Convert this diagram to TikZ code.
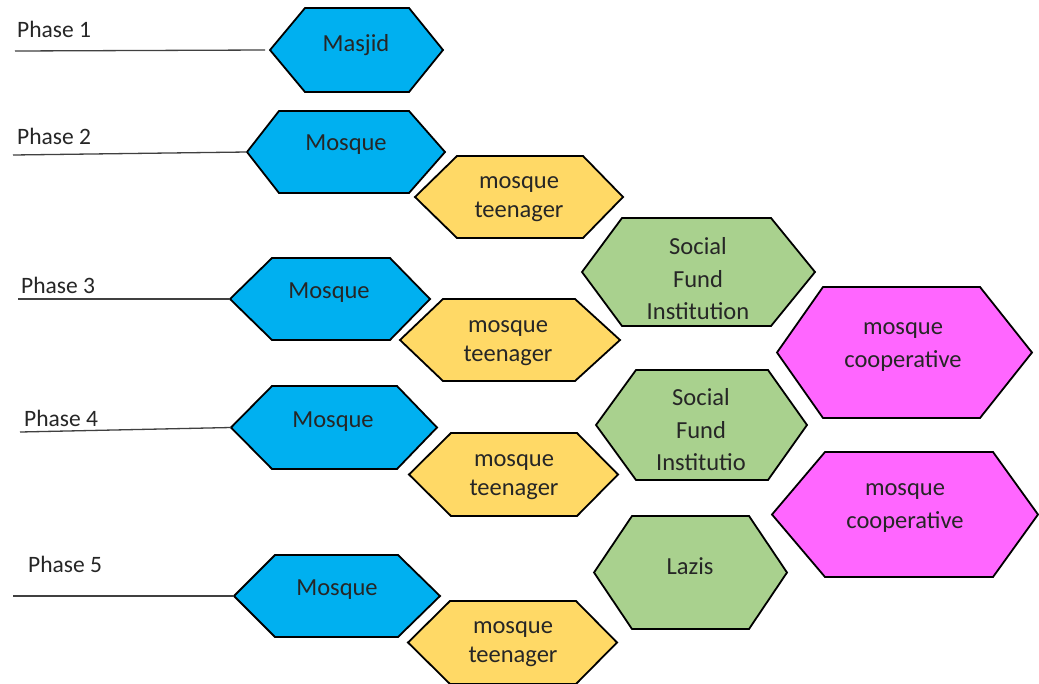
\documentclass[tikz,border=0pt]{standalone}
\usepackage{fontspec}
\setmainfont{Carlito}
\definecolor{hblue}{HTML}{00B0F0}
\definecolor{hyellow}{HTML}{FFD966}
\definecolor{hgreen}{HTML}{A9D18E}
\definecolor{hpink}{HTML}{FF66FF}
\definecolor{lineg}{HTML}{404040}
\newcommand\hexa[8]{% name, xl, yt, xr, yb, inset left, inset right, colour
  \path[hexshape, fill=#8] (#2,{(#3+#5)/2}) -- (#2+#6,#3) -- (#4-#7,#3) -- (#4,{(#3+#5)/2}) -- (#4-#7,#5) -- (#2+#6,#5) -- cycle;
  \coordinate (#1) at (#2,{(#3+#5)/2});}
\begin{document}
\begin{tikzpicture}[x=1pt,y=-1pt,
  hexshape/.style={draw=black, line width=1.8pt, line join=miter,
    preaction={draw=white, line width=7pt}},
  lbl/.style={font=\fontsize{24.5}{29.5}\selectfont, align=center, inner sep=0pt, text=black!85},
  lbl3/.style={lbl, font=\fontsize{24.5}{32.5}\selectfont},
  phase/.style={font=\fontsize{23.5}{26}\selectfont, anchor=west, inner sep=0pt, text=black!85},
  phaseline/.style={draw=lineg, line width=1.3pt}]
\useasboundingbox (0,0) rectangle (1039,683);
\fill[white] (0,0) rectangle (1039,683);

% hexagons
\hexa{h1}{270}{8}{443}{92}{35}{34}{hblue}
\hexa{h2}{247}{111}{445}{193}{32}{36}{hblue}
\hexa{t1}{415}{156}{623}{238}{42}{40}{hyellow}
\hexa{s1}{582}{218}{815}{326}{40}{44}{hgreen}
\hexa{h3}{230}{258}{430}{340}{42}{40}{hblue}
\hexa{t2}{400}{299}{620}{381}{43}{45}{hyellow}
\hexa{c1}{777}{287}{1032}{418}{46}{52}{hpink}
\hexa{h4}{231}{386}{437}{469}{41}{40}{hblue}
\hexa{s2}{596}{370}{807}{480}{40}{39}{hgreen}
\hexa{t3}{409}{433}{618}{516}{42}{41}{hyellow}
\hexa{c2}{772}{452}{1038}{577}{53}{45}{hpink}
\hexa{lz}{594}{516}{787}{629}{38}{38}{hgreen}
\hexa{h5}{234}{555}{440}{637}{41}{42}{hblue}
\hexa{t4}{408}{601}{617}{684}{42}{41}{hyellow}

% texts
\node[lbl] (n1) at (356,45) {Masjid};
\node[lbl] (n2) at (346,145) {Mosque};
\node[lbl] (n3) at (519,199) {mosque\\teenager};
\node[lbl3] (n4) at (698,279) {Social\\Fund\\Institution};
\node[lbl] (n5) at (329,293) {Mosque};
\node[lbl] (n6) at (508,343) {mosque\\teenager};
\node[lbl3] (n7) at (903,347) {mosque\\cooperative};
\node[lbl] (n8) at (333,422) {Mosque};
\node[lbl3] (n9) at (701,430) {Social\\Fund\\Institutio};
\node[lbl] (n10) at (514,477) {mosque\\teenager};
\node[lbl3] (n11) at (905,508) {mosque\\cooperative};
\node[lbl] (n12) at (690,566) {Lazis};
\node[lbl] (n13) at (337,590) {Mosque};
\node[lbl] (n14) at (513,644) {mosque\\teenager};

% phase labels and lines
\node[phase] (p1) at (17,29) {Phase 1};
\node[phase] (p2) at (17,136) {Phase 2};
\node[phase] (p3) at (21,285) {Phase 3};
\node[phase] (p4) at (24,418) {Phase 4};
\node[phase] (p5) at (28,564) {Phase 5};
\coordinate (l1) at (15,51);
\coordinate (l2) at (13,155);
\coordinate (l3) at (18,299);
\coordinate (l4) at (20,432);
\coordinate (l5) at (13,596);
\draw[phaseline] (l1) -- ([xshift=-5pt]h1);
\draw[phaseline] (l2) -- (h2);
\draw[phaseline] (l3) -- (h3);
\draw[phaseline] (l4) -- (h4);
\draw[phaseline] (l5) -- (h5);
\end{tikzpicture}
\end{document}
